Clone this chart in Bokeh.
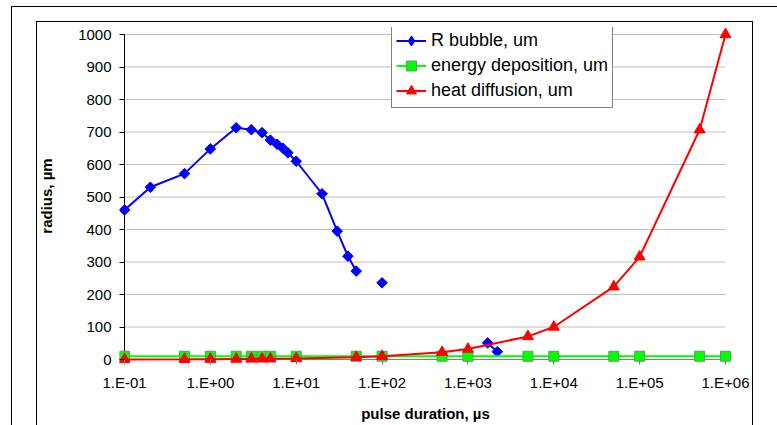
import math
from bokeh.plotting import figure
from bokeh.models import (Range1d, FixedTicker, CustomJSTickFormatter, Legend,
                          LegendItem, ColumnDataSource)
from bokeh.embed import file_html
from bokeh.resources import INLINE

nan = float("nan")

# ---- data ----
bubble_x = [0.1, 0.2, 0.5, 1, 2, 3, 4, 5, 6, 7, 8, 10, 20, 30, 40, 50,
            nan, 100, nan, 1700, 2200]
bubble_y = [460, 530, 572, 648, 713, 707, 698, 675, 662, 650, 636, 610, 510,
            395, 318, 272, nan, 236, nan, 51, 24]

duration_x = [0.1, 0.5, 1, 2, 3, 4, 5, 10, 50, 100, 500, 1000, 5000, 10000,
              50000, 100000, 500000, 1000000]
energy_y = [10, 10, 10, 10, 10, 10, 10, 10, 10, 10, 10, 10, 10, 10, 10, 10,
            10, 10]
heat_y = [0.3, 0.7, 1, 1.4, 1.7, 2, 2.2, 3.2, 7, 10, 22, 32, 71, 100, 224,
          316, 707, 1000]

x_ticks = [0.1, 1, 10, 100, 1000, 10000, 100000, 1000000]
x_tick_labels = ["1.E-01", "1.E+00", "1.E+01", "1.E+02", "1.E+03", "1.E+04",
                 "1.E+05", "1.E+06"]
y_ticks = [0, 100, 200, 300, 400, 500, 600, 700, 800, 900, 1000]

series_names = ["R bubble, um", "energy deposition, um", "heat diffusion, um"]

FONT = "Liberation Sans"
W, H = 777, 425

# small padding around the data area so that edge markers are not clipped
PX_PER_DEC = 601 / 7.0
PX_PER_UNIT = 325 / 1000.0
pad_l, pad_r, pad_b, pad_t = 5, 6, 5, 7
x_start = x_ticks[0] * 10 ** (-pad_l / PX_PER_DEC)
x_end = x_ticks[-1] * 10 ** (pad_r / PX_PER_DEC)
y_start = y_ticks[0] - pad_b / PX_PER_UNIT
y_end = y_ticks[-1] + pad_t / PX_PER_UNIT

p = figure(width=W, height=H, x_axis_type="log", output_backend="svg",
           toolbar_location=None,
           x_range=Range1d(x_start, x_end), y_range=Range1d(y_start, y_end),
           min_border_left=119, min_border_right=46,
           min_border_top=27, min_border_bottom=61)
p.outline_line_color = None
p.background_fill_color = None
p.border_fill_color = None
p.xgrid.visible = False
p.ygrid.visible = False

# chart-area frames (outer chart border and inner plot-area border)
p.styles = {
    "background-color": "white",
    "background-image": ", ".join(["linear-gradient(#000, #000)"] * 5),
    "background-position": "11px 6px, 11px 6px, 36px 21px, 36px 21px, 752px 21px",
    "background-size": "1px 100%, 100% 1px, 1px 100%, 717px 1px, 1px 100%",
    "background-repeat": "no-repeat",
}

# horizontal gridlines from the tick values
n_g = len(y_ticks) - 1
p.segment(x0=[x_ticks[0]] * n_g, x1=[x_ticks[-1]] * n_g,
          y0=y_ticks[1:], y1=y_ticks[1:], line_color="#C0C0C0", line_width=1)
# axis lines at the data origin
p.segment(x0=[x_ticks[0]], x1=[x_ticks[-1]], y0=[y_ticks[0]], y1=[y_ticks[0]],
          line_color="#808080", line_width=1)
p.segment(x0=[x_ticks[0]], x1=[x_ticks[0]], y0=[y_ticks[0]], y1=[y_ticks[-1]],
          line_color="black", line_width=1)

# x axis
xa = p.xaxis[0]
xa.ticker = FixedTicker(ticks=x_ticks, minor_ticks=[])
xa.formatter = CustomJSTickFormatter(
    args=dict(tick_vals=x_ticks, tick_texts=x_tick_labels),
    code="""
const i = tick_vals.findIndex(t => Math.abs(Math.log10(t) - Math.log10(tick)) < 1e-6);
return i >= 0 ? tick_texts[i] : "";
""")
xa.axis_line_color = None
xa.major_tick_line_color = "#808080"
xa.major_tick_out = 0
xa.major_tick_in = 5
xa.minor_tick_line_color = None
xa.major_label_standoff = 9
xa.major_label_text_font = FONT
xa.major_label_text_font_size = "15px"
xa.major_label_text_color = "black"
xa.axis_label = "pulse duration, \u00b5s"
xa.axis_label_text_font = FONT
xa.axis_label_text_font_size = "15px"
xa.axis_label_text_font_style = "bold"
xa.axis_label_text_color = "black"
xa.axis_label_standoff = 11

# y axis
ya = p.yaxis[0]
ya.ticker = FixedTicker(ticks=y_ticks, minor_ticks=[])
ya.axis_line_color = None
ya.major_tick_line_color = "black"
ya.major_tick_out = 0
ya.major_tick_in = 5
ya.minor_tick_line_color = None
ya.major_label_standoff = 8
ya.major_label_text_font = FONT
ya.major_label_text_font_size = "15px"
ya.major_label_text_color = "black"
ya.axis_label = "radius, \u00b5m"
ya.axis_label_text_font = FONT
ya.axis_label_text_font_size = "15px"
ya.axis_label_text_font_style = "bold"
ya.axis_label_text_color = "black"
ya.axis_label_standoff = 20

# series
bubble_src = ColumnDataSource(data=dict(x=bubble_x, y=bubble_y))
l1 = p.line("x", "y", source=bubble_src, line_color="#0000FF", line_width=2)
# diamond key (used by the legend); sits fully underneath the markers below
k1 = p.scatter("x", "y", source=bubble_src, marker="diamond", size=8,
               fill_color="#0000FF", line_color="#0000FF", line_width=1)
s1 = p.scatter("x", "y", source=bubble_src, marker="square", size=7.5,
               angle=math.pi / 4, fill_color="#0000FF", line_color="#0000FF",
               line_width=1)
l2 = p.line(duration_x, energy_y, line_color="#00FF00", line_width=2)
s2 = p.scatter(duration_x, energy_y, marker="square", size=10,
               fill_color="#00FF00", line_color="#5A9E5A", line_width=1)
l3 = p.line(duration_x, heat_y, line_color="#FF0000", line_width=2)
s3 = p.scatter(duration_x, heat_y, marker="triangle", size=11,
               fill_color="#FF0000", line_color="#FF0000", line_width=1)

legend = Legend(items=[
    LegendItem(label=series_names[0], renderers=[l1, k1]),
    LegendItem(label=series_names[1], renderers=[l2, s2]),
    LegendItem(label=series_names[2], renderers=[l3, s3]),
], location=(272, 256))
legend.margin = 0
legend.padding = 4
legend.spacing = 0
legend.glyph_width = 30
legend.glyph_height = 25
legend.label_height = 25
legend.label_standoff = 5
legend.label_text_font = FONT
legend.label_text_font_size = "18px"
legend.label_text_color = "black"
legend.border_line_color = "black"
legend.border_line_width = 1
legend.background_fill_color = "white"
legend.background_fill_alpha = 1
p.add_layout(legend)

open("out.html", "w").write(file_html(p, INLINE))
